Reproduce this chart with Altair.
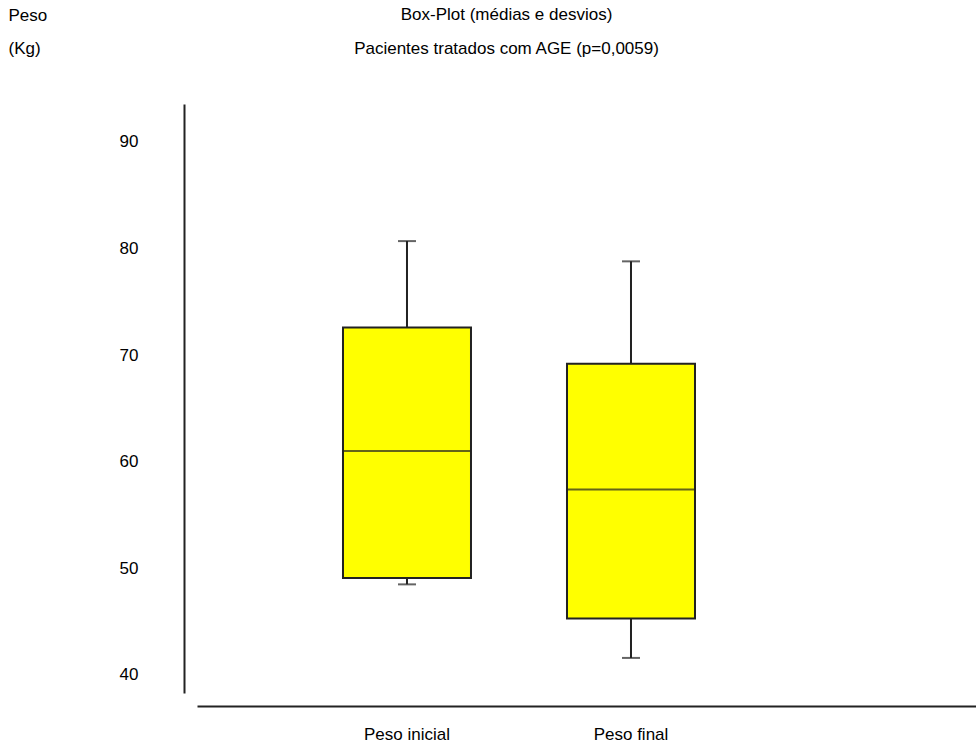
import altair as alt
import pandas as pd

# ---- data ----
categories = ["Peso inicial", "Peso final"]
whisker_low = [48.5, 41.6]
box_low = [49.1, 45.3]
median = [61.0, 57.4]
box_high = [72.6, 69.2]
whisker_high = [80.7, 78.8]
y_ticks = [40, 50, 60, 70, 80, 90]

title_text = "Box-Plot (médias e desvios)"
subtitle_text = "Pacientes tratados com AGE (p=0,0059)"
y_title = ["Peso", "(Kg)"]

df = pd.DataFrame({
    "cat": categories,
    "wlo": whisker_low,
    "qlo": box_low,
    "med": median,
    "qhi": box_high,
    "whi": whisker_high,
})

FONT = "Liberation Sans"
FS = 17
LINE = "#222222"

x_scale = alt.Scale(type="band", paddingInner=0.4286, paddingOuter=0.9531, align=0.3419)
x_axis = alt.Axis(title=None, orient="bottom", offset=13, domainColor=LINE, domainWidth=2,
                  ticks=False, labelPadding=20, labelAngle=0, labelFontSize=FS,
                  labelColor="#000000", labelFont=FONT, grid=False)
y_scale = alt.Scale(domain=[38.31, 93.56], nice=False, zero=False)
y_axis = alt.Axis(values=y_ticks, ticks=False, grid=False, domainColor=LINE, domainWidth=2,
                  offset=13, labelPadding=46, labelFontSize=FS, labelFont=FONT,
                  labelColor="#000000", title=y_title, titleAngle=0, titleAlign="left",
                  titleBaseline="top", titleX=-176, titleY=-97, titleLineHeight=33,
                  titleFontSize=FS, titleFont=FONT, titleFontWeight="normal",
                  titleColor="#000000")

X = alt.X("cat:N", sort=categories, scale=x_scale, axis=x_axis)

base = alt.Chart(df)

whisk = base.mark_rule(color=LINE, strokeWidth=2).encode(
    x=X,
    y=alt.Y("wlo:Q", scale=y_scale, axis=y_axis),
    y2="whi:Q",
)
box = base.mark_bar(fill="#FFFF00", stroke=LINE, strokeWidth=2).encode(
    x=X, y=alt.Y("qlo:Q", scale=y_scale, axis=y_axis), y2="qhi:Q"
)
med = base.mark_tick(color=LINE, size=128, thickness=2).encode(
    x=X, y=alt.Y("med:Q", scale=y_scale, axis=y_axis)
)
cap_lo = base.mark_tick(color=LINE, size=18, thickness=2).encode(
    x=X, y=alt.Y("wlo:Q", scale=y_scale, axis=y_axis)
)
cap_hi = base.mark_tick(color=LINE, size=18, thickness=2).encode(
    x=X, y=alt.Y("whi:Q", scale=y_scale, axis=y_axis)
)

chart = alt.layer(whisk, box, med, cap_lo, cap_hi).properties(
    width=779,
    height=589,
    autosize="none",
    padding={"left": 197, "top": 104, "right": 0, "bottom": 50},
    title=alt.TitleParams(
        text=title_text, subtitle=subtitle_text, anchor="middle", frame="group",
        fontSize=FS, subtitleFontSize=FS, fontWeight="normal", font=FONT,
        subtitleFont=FONT, color="#000000", subtitleColor="#000000",
        subtitlePadding=17, dx=-80, dy=56,
    ),
).configure(background="white").configure_view(stroke=None)

chart.save("out.html", embed_options={"renderer": "svg", "actions": False})
